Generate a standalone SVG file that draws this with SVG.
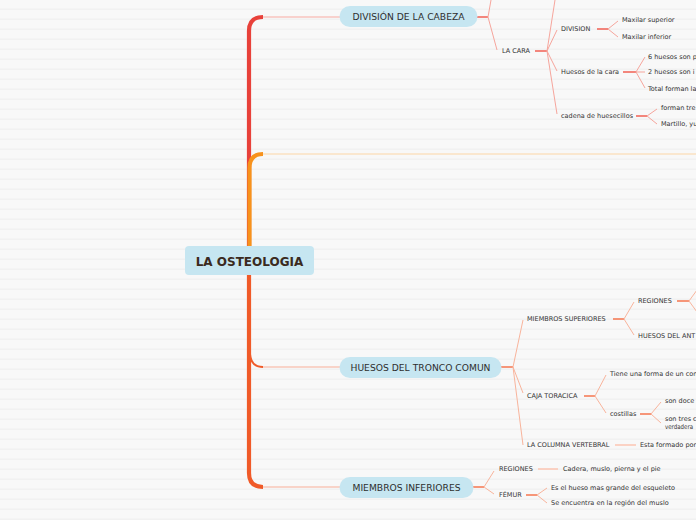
<svg xmlns="http://www.w3.org/2000/svg" width="696" height="520" viewBox="0 0 696 520">
<defs>
<pattern id="stripes" width="696" height="10" patternUnits="userSpaceOnUse">
<rect width="696" height="10" fill="#f8f8f8"/>
<rect y="8.5" width="696" height="1.5" fill="#f1f1f1"/>
</pattern>
<style>
.t{font-family:"DejaVu Sans","Liberation Sans",sans-serif;font-size:6.5px;fill:#333333}
.nt{font-family:"DejaVu Sans","Liberation Sans",sans-serif;font-size:9.2px;fill:#2e2e2e;text-anchor:middle}
.pill{fill:#c6e6f1}
.rs{stroke:#f2695d;stroke-width:1.6;fill:none}
.rf{stroke:#f6a59c;stroke-width:1;fill:none}
.os{stroke:#f57d58;stroke-width:1.6;fill:none}
.of{stroke:#f8b49c;stroke-width:1;fill:none}
.ol{stroke:#fbc8b6;stroke-width:1.6;fill:none}
</style>
</defs>
<rect width="696" height="520" fill="url(#stripes)"/>

<g id="connectors">
<path d="M249 261 V31 Q249 17 263 17" stroke="#e8413a" stroke-width="4.2" fill="none"/>
<line x1="263" y1="17" x2="340" y2="17" stroke="#f7aaa2" stroke-width="1.2"/>
<path d="M249.5 261 V168 Q249.5 154 263 154" stroke="#f7921c" stroke-width="4.2" fill="none"/>
<line x1="263" y1="154" x2="696" y2="154" stroke="#fcd6a6" stroke-width="1.2"/>
<path d="M249 261 V473 Q249 487 263 487" stroke="#f05a28" stroke-width="4.2" fill="none"/>
<line x1="263" y1="487" x2="340" y2="487" stroke="#f8ae98" stroke-width="1.2"/>
<path d="M250 354 Q251 367 263 367" stroke="#f05a28" stroke-width="2" fill="none"/>
<line x1="263" y1="367" x2="340" y2="367" stroke="#f8ae98" stroke-width="1.2"/>

<line class="rs" x1="477" y1="17" x2="488" y2="17"/>
<line class="rf" x1="488" y1="17" x2="491" y2="0"/>
<line class="rf" x1="488" y1="17" x2="497" y2="50"/>
<line class="rs" x1="535" y1="51" x2="547" y2="51"/>
<line class="rf" x1="547" y1="51" x2="555" y2="0"/>
<line class="rf" x1="547" y1="51" x2="557" y2="30"/>
<line class="rf" x1="547" y1="51" x2="557" y2="71"/>
<line class="rf" x1="547" y1="51" x2="557" y2="114"/>
<line class="rs" x1="597" y1="29" x2="608" y2="29"/>
<line class="rf" x1="608" y1="29" x2="618" y2="21"/>
<line class="rf" x1="608" y1="29" x2="618" y2="37"/>
<line class="rs" x1="623" y1="72" x2="636" y2="72"/>
<line class="rf" x1="636" y1="72" x2="645" y2="57"/>
<line class="rf" x1="636" y1="72" x2="645" y2="72"/>
<line class="rf" x1="636" y1="72" x2="645" y2="88"/>
<line class="rs" x1="636" y1="116" x2="647" y2="116"/>
<line class="rf" x1="647" y1="116" x2="657" y2="109"/>
<line class="rf" x1="647" y1="116" x2="657" y2="124"/>

<line class="os" x1="501" y1="367" x2="513" y2="367"/>
<line class="of" x1="513" y1="367" x2="523" y2="320"/>
<line class="of" x1="513" y1="367" x2="523" y2="393"/>
<line class="of" x1="513" y1="367" x2="523" y2="445"/>
<line class="os" x1="613" y1="319" x2="624" y2="319"/>
<line class="of" x1="624" y1="319" x2="634" y2="302"/>
<line class="of" x1="624" y1="319" x2="634" y2="335"/>
<line class="os" x1="677" y1="301" x2="689" y2="301"/>
<line class="of" x1="689" y1="301" x2="697" y2="290"/>
<line class="of" x1="689" y1="301" x2="697" y2="312"/>
<line class="os" x1="584" y1="396" x2="595" y2="396"/>
<line class="of" x1="595" y1="396" x2="606" y2="375"/>
<line class="of" x1="595" y1="396" x2="606" y2="413"/>
<line class="os" x1="640" y1="414" x2="651" y2="414"/>
<line class="of" x1="651" y1="414" x2="661" y2="402"/>
<line class="of" x1="651" y1="414" x2="661" y2="423"/>
<line class="ol" x1="615" y1="445" x2="636" y2="445"/>

<line class="os" x1="473" y1="487" x2="484" y2="487"/>
<line class="of" x1="484" y1="487" x2="494" y2="471"/>
<line class="of" x1="484" y1="487" x2="494" y2="494"/>
<line class="ol" x1="538" y1="469" x2="558" y2="469"/>
<line class="os" x1="526" y1="495" x2="537" y2="495"/>
<line class="of" x1="537" y1="495" x2="547" y2="488"/>
<line class="of" x1="537" y1="495" x2="547" y2="503"/>
</g>

<g id="center">
<rect x="185" y="246" width="129" height="29" rx="4" fill="#c6e6f1"/>
<text x="249.5" y="265.5" font-family="DejaVu Sans, Liberation Sans, sans-serif" font-size="12" font-weight="bold" fill="#3a2a20" text-anchor="middle">LA OSTEOLOGIA</text>
</g>

<g id="n-cabeza">
<rect class="pill" x="339.5" y="6" width="138" height="21" rx="10.5"/>
<text class="nt" x="408.5" y="20">DIVISIÓN DE LA CABEZA</text>
</g>
<g id="n-tronco">
<rect class="pill" x="339.5" y="357" width="162" height="21" rx="10.5"/>
<text class="nt" x="420.5" y="371">HUESOS DEL TRONCO COMUN</text>
</g>
<g id="n-inferiores">
<rect class="pill" x="339.5" y="477" width="134" height="21" rx="10.5"/>
<text class="nt" x="406.5" y="491">MIEMBROS INFERIORES</text>
</g>

<g id="n-lacara"><text class="t" x="502" y="53.4">LA CARA</text></g>
<g id="n-division"><text class="t" x="561" y="31.4">DIVISION</text></g>
<g id="n-maxsup"><text class="t" x="622" y="22.4">Maxilar superior</text></g>
<g id="n-maxinf"><text class="t" x="622" y="39.4">Maxilar inferior</text></g>
<g id="n-huesoscara"><text class="t" x="561" y="74.4">Huesos de la cara</text></g>
<g id="n-6huesos"><text class="t" x="648" y="59.4">6 huesos son p</text></g>
<g id="n-2huesos"><text class="t" x="648" y="74.4">2 huesos son i</text></g>
<g id="n-total"><text class="t" x="648" y="91.4">Total forman la</text></g>
<g id="n-cadena"><text class="t" x="561" y="118.4">cadena de huesecillos</text></g>
<g id="n-forman"><text class="t" x="661" y="110.4">forman tre</text></g>
<g id="n-martillo"><text class="t" x="661" y="126.4">Martillo, yu</text></g>

<g id="n-msup"><text class="t" x="527" y="321.4">MIEMBROS SUPERIORES</text></g>
<g id="n-regsup"><text class="t" x="638" y="303.4">REGIONES</text></g>
<g id="n-huesosant"><text class="t" x="638" y="338.4">HUESOS DEL ANT</text></g>
<g id="n-caja"><text class="t" x="527" y="398.4">CAJA TORACICA</text></g>
<g id="n-tiene"><text class="t" x="610" y="376.4">Tiene una forma de un con</text></g>
<g id="n-costillas"><text class="t" x="610" y="416.4">costillas</text></g>
<g id="n-doce"><text class="t" x="665" y="403.4">son doce</text></g>
<g id="n-tres"><text class="t" x="665" y="421">son tres c</text><text class="t" x="665" y="429" textLength="28" lengthAdjust="spacingAndGlyphs">verdadera</text></g>
<g id="n-columna"><text class="t" x="527" y="447.4">LA COLUMNA VERTEBRAL</text></g>
<g id="n-esta"><text class="t" x="640" y="447.4">Esta formado por</text></g>

<g id="n-reginf"><text class="t" x="499" y="471.4">REGIONES</text></g>
<g id="n-cadera"><text class="t" x="563" y="471.4">Cadera, muslo, pierna y el pie</text></g>
<g id="n-femur"><text class="t" x="499" y="497.4">FÉMUR</text></g>
<g id="n-eshueso"><text class="t" x="551" y="490.4">Es el hueso mas grande del esqueleto</text></g>
<g id="n-seencuentra"><text class="t" x="551" y="505.4">Se encuentra en la región del muslo</text></g>
</svg>
